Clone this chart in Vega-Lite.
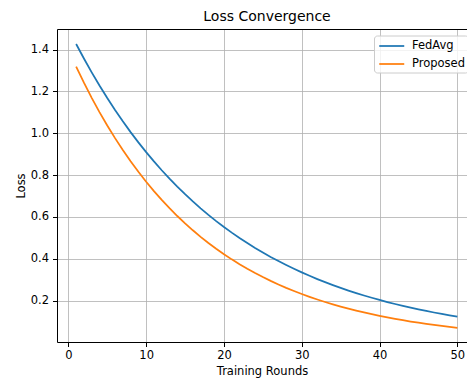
{
  "$schema": "https://vega.github.io/schema/vega-lite/v6.json",
  "width": 410,
  "height": 313,
  "autosize": "none",
  "padding": {"left": 57, "top": 29, "right": 0, "bottom": 37},
  "background": "white",
  "title": {"text": "Loss Convergence", "fontSize": 14, "font": "DejaVu Sans", "fontWeight": "normal", "color": "black", "offset": 5, "dx": 5},
  "config": {
    "view": {"stroke": null},
    "axis": {"labelFont": "DejaVu Sans", "titleFont": "DejaVu Sans", "labelFontSize": 11.5, "titleFontSize": 11.5, "titleFontWeight": "normal", "labelColor": "black", "titleColor": "black", "tickColor": "black", "tickSize": 4.5, "labelPadding": 4, "grid": true, "gridColor": "#b0b0b0", "gridWidth": 0.8, "domain": true, "domainColor": "black", "domainWidth": 1}
  },
  "data": {"values": [
    {"round":1,"FedAvg":1.4268,"Proposed":1.3185},
    {"round":2,"FedAvg":1.3573,"Proposed":1.2417},
    {"round":3,"FedAvg":1.2911,"Proposed":1.1694},
    {"round":4,"FedAvg":1.2281,"Proposed":1.1013},
    {"round":5,"FedAvg":1.1682,"Proposed":1.0371},
    {"round":6,"FedAvg":1.1112,"Proposed":0.9767},
    {"round":7,"FedAvg":1.0570,"Proposed":0.9199},
    {"round":8,"FedAvg":1.0055,"Proposed":0.8663},
    {"round":9,"FedAvg":0.9564,"Proposed":0.8158},
    {"round":10,"FedAvg":0.9098,"Proposed":0.7683},
    {"round":11,"FedAvg":0.8654,"Proposed":0.7236},
    {"round":12,"FedAvg":0.8232,"Proposed":0.6815},
    {"round":13,"FedAvg":0.7831,"Proposed":0.6418},
    {"round":14,"FedAvg":0.7449,"Proposed":0.6044},
    {"round":15,"FedAvg":0.7086,"Proposed":0.5692},
    {"round":16,"FedAvg":0.6740,"Proposed":0.5361},
    {"round":17,"FedAvg":0.6411,"Proposed":0.5048},
    {"round":18,"FedAvg":0.6099,"Proposed":0.4754},
    {"round":19,"FedAvg":0.5801,"Proposed":0.4477},
    {"round":20,"FedAvg":0.5518,"Proposed":0.4217},
    {"round":21,"FedAvg":0.5249,"Proposed":0.3971},
    {"round":22,"FedAvg":0.4993,"Proposed":0.3740},
    {"round":23,"FedAvg":0.4750,"Proposed":0.3522},
    {"round":24,"FedAvg":0.4518,"Proposed":0.3317},
    {"round":25,"FedAvg":0.4298,"Proposed":0.3124},
    {"round":26,"FedAvg":0.4088,"Proposed":0.2942},
    {"round":27,"FedAvg":0.3889,"Proposed":0.2771},
    {"round":28,"FedAvg":0.3699,"Proposed":0.2609},
    {"round":29,"FedAvg":0.3519,"Proposed":0.2457},
    {"round":30,"FedAvg":0.3347,"Proposed":0.2314},
    {"round":31,"FedAvg":0.3184,"Proposed":0.2179},
    {"round":32,"FedAvg":0.3028,"Proposed":0.2052},
    {"round":33,"FedAvg":0.2881,"Proposed":0.1933},
    {"round":34,"FedAvg":0.2740,"Proposed":0.1820},
    {"round":35,"FedAvg":0.2607,"Proposed":0.1714},
    {"round":36,"FedAvg":0.2479,"Proposed":0.1615},
    {"round":37,"FedAvg":0.2359,"Proposed":0.1521},
    {"round":38,"FedAvg":0.2244,"Proposed":0.1432},
    {"round":39,"FedAvg":0.2134,"Proposed":0.1349},
    {"round":40,"FedAvg":0.2030,"Proposed":0.1270},
    {"round":41,"FedAvg":0.1931,"Proposed":0.1196},
    {"round":42,"FedAvg":0.1837,"Proposed":0.1126},
    {"round":43,"FedAvg":0.1747,"Proposed":0.1061},
    {"round":44,"FedAvg":0.1662,"Proposed":0.0999},
    {"round":45,"FedAvg":0.1581,"Proposed":0.0941},
    {"round":46,"FedAvg":0.1504,"Proposed":0.0886},
    {"round":47,"FedAvg":0.1431,"Proposed":0.0834},
    {"round":48,"FedAvg":0.1361,"Proposed":0.0786},
    {"round":49,"FedAvg":0.1294,"Proposed":0.0740},
    {"round":50,"FedAvg":0.1231,"Proposed":0.0697}
  ]},
  "transform": [{"fold": ["FedAvg", "Proposed"], "as": ["method", "loss"]}],
  "layer": [
    {
      "mark": {"type": "line", "strokeWidth": 1.75, "clip": true},
      "encoding": {
        "x": {"field": "round", "type": "quantitative", "scale": {"domain": [-1.46, 51.24], "nice": false, "zero": false},
          "axis": {"title": "Training Rounds", "values": [0, 10, 20, 30, 40, 50], "format": "d", "labelPadding": 3, "titlePadding": 4}},
        "y": {"field": "loss", "type": "quantitative", "scale": {"domain": [0.002, 1.4985], "nice": false, "zero": false},
          "axis": {"title": "Loss", "values": [0.2, 0.4, 0.6, 0.8, 1.0, 1.2, 1.4], "format": ".1f", "titlePadding": 4}},
        "color": {"field": "method", "type": "nominal",
          "scale": {"domain": ["FedAvg", "Proposed"], "range": ["#1f77b4", "#ff7f0e"]},
          "legend": {"title": null, "orient": "none", "legendX": 317, "legendY": 6.5, "symbolType": "M-0.84,0L3.16,0", "symbolSize": 156, "symbolStrokeWidth": 1.75, "symbolFillColor": "transparent", "labelFont": "DejaVu Sans", "labelFontSize": 11.5, "labelColor": "black", "labelOffset": 20, "rowPadding": 5, "padding": 3, "strokeColor": "#cccccc", "fillColor": "rgba(255,255,255,0.8)", "cornerRadius": 3}}
      }
    },
    {
      "mark": {"type": "line", "strokeOpacity": 0, "clip": true},
      "encoding": {
        "x": {"field": "round", "type": "quantitative",
          "axis": {"orient": "top", "title": null, "labels": false, "ticks": false, "grid": false, "domain": true}},
        "y": {"field": "loss", "type": "quantitative"},
        "detail": {"field": "method"}
      }
    }
  ],
  "resolve": {"axis": {"x": "independent"}}
}
